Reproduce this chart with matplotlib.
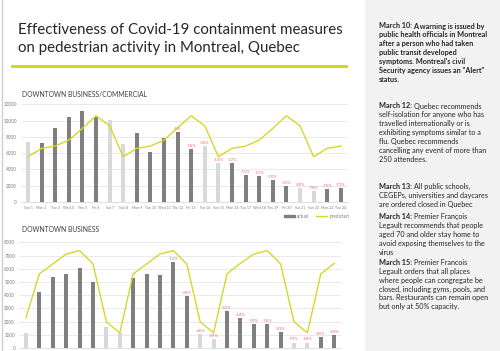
import matplotlib
matplotlib.use("Agg")
import matplotlib.pyplot as plt
from matplotlib.patches import Rectangle
from matplotlib.lines import Line2D

plt.rcParams['font.family'] = ['Lato', 'DejaVu Sans']

days = ["Sun 1", "Mon 2", "Tue 3", "Wed 4", "Thu 5", "Fri 6", "Sat 7", "Sun 8",
        "Mon 9", "Tue 10", "Wed 11", "Thu 12", "Fri 13", "Sat 14", "Sun 15",
        "Mon 16", "Tue 17", "Wed 18", "Thu 19", "Fri 20", "Sat 21", "Sun 22",
        "Mon 23", "Tue 24"]

# downtown business/commercial
com_actual = [7400, 7200, 9050, 10470, 11170, 10470, 10100, 7120, 8500, 6130, 7800,
              8630, 6500, 6900, 4780, 4800, 3300, 3200, 2700, 2000, 1700, 1350, 1600, 1700]
com_pred = [5560, 6590, 6870, 7600, 9040, 10590, 9360, 5560, 6590, 6870, 7600,
            9120, 10590, 9360, 5560, 6590, 6870, 7600, 9040, 10590, 9360, 5560, 6590, 6870]
com_pct = [None] * 11 + ["-5%", "-38%", "-24%", "-13%", "-27%", "-51%", "-57%", "-70%",
                         "-81%", "-80%", "-78%", "-75%", "-73%"]

# downtown business
bus_actual = [1130, 4230, 5410, 5590, 6040, 4960, 1560, 1150, 5290, 5590, 5490,
              6490, 3930, 1050, 680, 2780, 2280, 1830, 1780, 1180, 400, 400, 830, 980]
bus_pred = [2300, 5610, 6360, 7110, 7370, 6360, 1980, 1150, 5610, 6360, 7110,
            7370, 6360, 1980, 1150, 5610, 6410, 7110, 7370, 6360, 1980, 1150, 5610, 6410]
bus_pct = [None] * 11 + ["-12%", "-38%", "-46%", "-39%", "-50%", "-64%", "-74%", "-76%",
                         "-81%", "-79%", "-68%", "-85%", "-84%"]

notes = [
    ("March 10:", ["A warning is issued by", "public health officials in Montreal",
                   "after a person who had taken", "public transit developed",
                   "symptoms. Montreal's civil", "Security agency issues an \"Alert\"",
                   "status."], True),
    ("March 12:", ["Quebec recommends", "self-isolation for anyone who has",
                   "travelled internationally or is", "exhibiting symptoms similar to a",
                   "flu. Quebec recommends", "cancelling any event of more than",
                   "250 attendees."], False),
    ("March 13:", ["All public schools,", "CEGEPs, universities and daycares",
                   "are ordered closed in Quebec"], False),
    ("March 14:", ["Premier François", "Legault recommends that people",
                   "aged 70 and older stay home to", "avoid exposing themselves to the",
                   "virus"], False),
    ("March 15:", ["Premier Francois", "Legault orders that all places",
                   "where people can congregate be", "closed, including gyms, pools, and",
                   "bars. Restaurants can remain open", "but only at 50% capacity."], False),
]
note_top = [26, 106, 186.7, 216.7, 262.3]

W, H = 500, 351
dark, light = '#7f7f7f', '#d9d9d9'
yellow = '#d5d72c'
red = '#f06a6a'

fig = plt.figure(figsize=(W / 100, H / 100), dpi=100)


def px_axes(x0, y0, x1, y1):
    return fig.add_axes([x0 / W, 1 - y1 / H, (x1 - x0) / W, (y1 - y0) / H])


# backgrounds
bg = fig.add_axes([0, 0, 1, 1])
bg.set_xlim(0, W)
bg.set_ylim(H, 0)
bg.axis('off')
bg.add_patch(Rectangle((365, 0), W - 365, H, color='#f2f2f2', lw=0))
bg.plot([1.5, 1.5], [0, H], color='#cfcfcf', lw=1)
bg.plot([12, 346], [65.7, 65.7], color='#d4d40c', lw=2)
bg.text(18, 33.5, "Effectiveness of Covid-19 containment measures", fontsize=10.8,
        color='#262626', va='baseline')
bg.text(18, 52, "on pedestrian activity in Montreal, Quebec", fontsize=10.8,
        color='#262626', va='baseline')
bg.text(22, 94.3, "DOWNTOWN BUSINESS/COMMERCIAL", fontsize=4.9, color='#404040', va='center')
bg.text(22, 230, "DOWNTOWN BUSINESS", fontsize=4.9, color='#404040', va='center')


def bar_chart(ax, actual, pred, pct, ymax, step, show_days=True):
    x = list(range(len(days)))
    cols = [light if d.startswith(('Sat', 'Sun')) else dark for d in days]
    ax.bar(x, actual, width=0.3, color=cols, zorder=2)
    ax.plot(x, pred, color=yellow, lw=1, zorder=3)
    for i, lab in enumerate(pct):
        if lab:
            ax.text(i, actual[i] + ymax * 0.012, lab, fontsize=2.9, color=red,
                    ha='center', va='bottom', zorder=4)
    ax.set_xlim(-0.5, len(days) - 0.5)
    ax.set_ylim(0, ymax)
    ax.set_yticks(range(0, ymax + 1, step))
    ax.yaxis.grid(True, color='#e6e6e6', lw=0.6, zorder=0)
    for s in ['top', 'right', 'left']:
        ax.spines[s].set_visible(False)
    ax.spines['bottom'].set_color('#d9d9d9')
    ax.spines['bottom'].set_linewidth(0.6)
    ax.tick_params(axis='y', length=0, labelsize=3.3, labelcolor='#7f7f7f', pad=3)
    ax.tick_params(axis='x', length=0, labelsize=2.6, labelcolor='#7f7f7f', pad=3)
    ax.set_xticks(x)
    # the lower chart's day labels fall below the picture's edge
    ax.set_xticklabels(days if show_days else [])
    ax.set_facecolor('none')


ax1 = px_axes(21.2, 104.3, 347.6, 202)
bar_chart(ax1, com_actual, com_pred, com_pct, 12000, 2000)
handles = [Rectangle((0, 0), 1, 1, color=dark), Line2D([], [], color=yellow, lw=1)]
ax1.legend(handles, ['actual', 'predicted'], loc='upper right', bbox_to_anchor=(1.005, -0.12),
           ncol=2, frameon=False, fontsize=3.3, labelcolor='#7f7f7f',
           handlelength=2.4, handleheight=0.4, columnspacing=1.5, handletextpad=0.5,
           borderpad=0, borderaxespad=0)

ax2 = px_axes(19.3, 242.3, 340.9, 348)
bar_chart(ax2, bus_actual, bus_pred, bus_pct, 8000, 1000, show_days=False)

# side notes
fig.canvas.draw()
rend = fig.canvas.get_renderer()
step = 8.9
fs = 5.2
for (head, lines, all_bold), y0 in zip(notes, note_top):
    t = bg.text(379, y0, head, fontsize=fs, fontweight='bold', color='#262626', va='center')
    xr = t.get_window_extent(rend).x1
    for k, line in enumerate(lines):
        xx = xr + 1.5 if k == 0 else 379
        bg.text(xx, y0 + k * step, line, fontsize=fs, color='#262626', va='center',
                fontweight='bold' if all_bold else 'normal')

fig.savefig('out.png', dpi=100)
